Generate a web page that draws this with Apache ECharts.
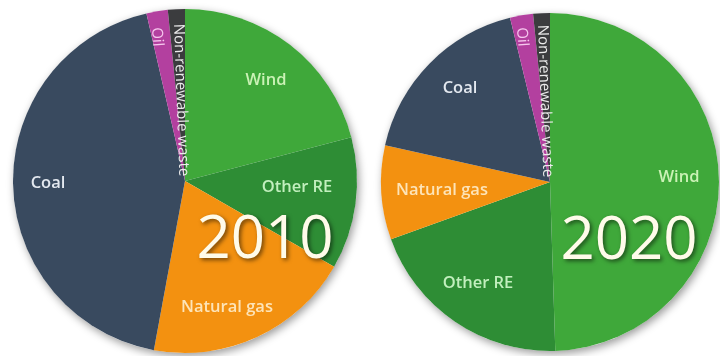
<!DOCTYPE html>
<html>
<head>
<meta charset="utf-8">
<script src="https://cdn.jsdelivr.net/npm/echarts@6/dist/echarts.min.js"></script>
<style>
  html, body { margin: 0; padding: 0; background: #ffffff; }
  #chart { width: 720px; height: 356px; }
</style>
</head>
<body>
<div id="chart"></div>
<script>
// Electricity generation mix, share in %
const sources = ['Wind', 'Other RE', 'Natural gas', 'Coal', 'Oil', 'Non-renewable waste'];
const mix2010 = [20.9, 12.4, 19.6, 43.5, 2.0, 1.6];
const mix2020 = [49.5, 20.0, 9.0, 17.7, 2.2, 1.6];
const years = ['2010', '2020'];

const sliceColors = ['#3fa83a', '#2e8d35', '#f39110', '#394a5f', '#b3409f', '#3b3c3e'];
const labelColors = ['#cbf2b6', '#c2efbe', '#fde4b8', '#e3e8ef', '#f6c8ee', '#ececec'];

// label placement per slice: [x, y, rotate]
const labelPos2010 = [[266, 80, 0], [297, 187, 0], [227, 307, 0], [48, 183, 0], [157, 37, -86], [181, 100, -88]];
const labelPos2020 = [[679, 177, 0], [478, 283, 0], [442, 190, 0], [460, 88, 0], [522, 37, -86], [545, 101, -88]];

const FONT = '"Open Sans", "Noto Sans", sans-serif';

function pieSeries(values, center, radius, pos) {
  return {
    type: 'pie',
    center: center,
    radius: radius,
    startAngle: 90,
    clockwise: true,
    silent: true,
    animation: false,
    data: sources.map((s, i) => ({
      name: s,
      value: values[i],
      itemStyle: { color: sliceColors[i] },
      label: {
        color: labelColors[i],
        fontSize: pos[i][2] ? 15 : 16.5,
        fontWeight: pos[i][2] ? 'normal' : 600
      }
    })),
    label: {
      show: true,
      position: 'inside',
      formatter: '{b}',
      fontFamily: FONT
    },
    labelLine: { show: false },
    labelLayout: function (p) {
      const q = pos[p.dataIndex];
      return { x: q[0], y: q[1], rotate: q[2], align: 'center', verticalAlign: 'middle' };
    },
    itemStyle: { borderWidth: 0 }
  };
}

// soft drop shadow behind each disc
function backdrop(center, radius) {
  return {
    type: 'pie', center: center, radius: radius, silent: true, animation: false,
    data: [{ value: 1, itemStyle: { color: '#ffffff', shadowBlur: 8, shadowColor: 'rgba(0,0,0,0.4)', shadowOffsetX: 2, shadowOffsetY: 3 } }],
    label: { show: false }, labelLine: { show: false }, z: 1
  };
}

const chart = echarts.init(document.getElementById('chart'), null, { renderer: 'canvas' });
chart.setOption({
  backgroundColor: '#ffffff',
  animation: false,
  series: [
    backdrop([185, 181], 172),
    backdrop([550, 182], 169),
    Object.assign(pieSeries(mix2010, [185, 181], 172, labelPos2010), { z: 2 }),
    Object.assign(pieSeries(mix2020, [550, 182], 169, labelPos2020), { z: 2 })
  ],
  graphic: [
    { type: 'text', x: 265, y: 241, z: 100, style: { text: years[0], fill: '#fffbea', font: '60px ' + FONT, textAlign: 'center', textVerticalAlign: 'middle', textShadowColor: 'rgba(0,0,0,0.55)', textShadowBlur: 4, textShadowOffsetX: 2, textShadowOffsetY: 2 } },
    { type: 'text', x: 629, y: 242, z: 100, style: { text: years[1], fill: '#fffbea', font: '60px ' + FONT, textAlign: 'center', textVerticalAlign: 'middle', textShadowColor: 'rgba(0,0,0,0.55)', textShadowBlur: 4, textShadowOffsetX: 2, textShadowOffsetY: 2 } }
  ]
});
</script>
</body>
</html>
